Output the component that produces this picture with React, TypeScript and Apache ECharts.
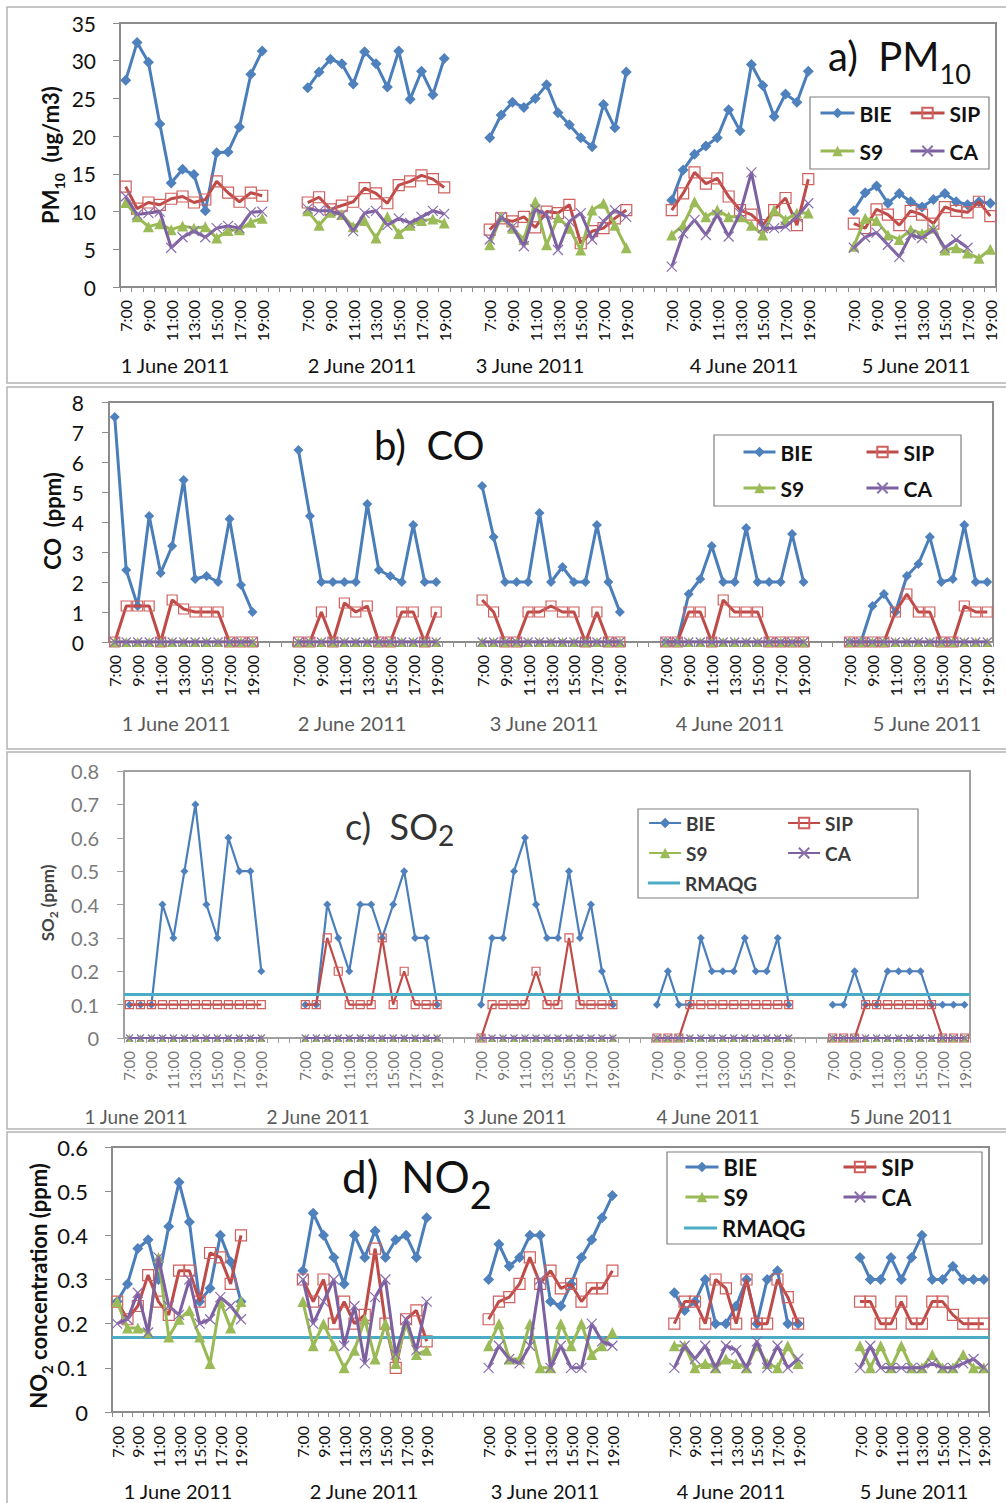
import React, { useEffect, useRef } from "react";
import * as echarts from "echarts";

// ---------------- categories / labels ----------------
const HOURS = ["7:00", "8:00", "9:00", "10:00", "11:00", "12:00", "13:00", "14:00", "15:00", "16:00", "17:00", "18:00", "19:00"];
const HOUR_LABELS = ["7:00", "9:00", "11:00", "13:00", "15:00", "17:00", "19:00"];
const DAYS = ["1 June 2011", "2 June 2011", "3 June 2011", "4 June 2011", "5 June 2011"];
const STATIONS = ["BIE", "SIP", "S9", "CA"];
const GUIDE = "RMAQG";

// ---------------- a) PM10 (ug/m3) ----------------
const PM10_TICKS = [0, 5, 10, 15, 20, 25, 30, 35];
const PM10_BIE = [
  [27.4, 32.4, 29.8, 21.6, 13.8, 15.6, 14.9, 10.1, 17.8, 17.9, 21.2, 28.2, 31.3],
  [26.4, 28.5, 30.2, 29.6, 26.9, 31.2, 29.6, 26.5, 31.3, 24.9, 28.6, 25.5, 30.3],
  [19.8, 22.8, 24.5, 23.8, 25.0, 26.8, 23.1, 21.5, 19.8, 18.6, 24.2, 21.1, 28.5],
  [11.5, 15.5, 17.6, 18.7, 19.8, 23.5, 20.7, 29.5, 26.7, 22.6, 25.6, 24.5, 28.6],
  [10.1, 12.5, 13.4, 11.1, 12.4, 11.3, 10.6, 11.6, 12.4, 11.3, 10.9, 11.3, 11.1],
];
const PM10_SIP = [
  [13.3, 10.4, 11.2, 10.9, 11.7, 12.0, 11.2, 11.6, 14.0, 12.5, 11.3, 12.5, 12.1],
  [11.2, 11.9, 10.3, 10.8, 11.3, 13.1, 12.4, 11.1, 13.5, 14.0, 14.8, 14.3, 13.2],
  [7.6, 9.1, 8.7, 9.3, 7.9, 10.0, 9.8, 10.9, 5.8, 7.4, 7.8, 9.1, 10.2],
  [10.2, 12.4, 15.2, 13.7, 14.4, 12.0, 10.2, 9.6, 8.2, 10.2, 11.8, 8.2, 14.3],
  [8.4, 7.8, 10.3, 9.6, 8.2, 10.1, 9.6, 8.4, 10.6, 10.1, 9.9, 11.3, 9.4],
];
const PM10_S9 = [
  [11.2, 9.3, 8.0, 8.4, 7.6, 8.1, 7.8, 8.0, 6.5, 7.5, 7.6, 8.6, 9.1],
  [10.1, 8.2, 9.9, 9.6, 8.0, 8.8, 6.5, 9.3, 7.1, 8.2, 8.8, 9.0, 8.5],
  [5.6, 9.3, 7.8, 6.3, 11.3, 5.6, 9.2, 7.8, 4.9, 10.2, 11.1, 8.2, 5.2],
  [6.9, 8.2, 11.3, 9.3, 10.2, 9.3, 9.3, 8.2, 6.9, 10.2, 8.9, 9.8, 9.8],
  [5.4, 9.1, 8.8, 6.9, 6.3, 7.6, 7.1, 7.8, 4.9, 5.2, 4.5, 3.8, 5.0],
];
const PM10_CA = [
  [12.0, 9.6, 9.8, 10.0, 5.2, 6.6, 7.4, 6.6, 7.8, 8.1, 7.8, 9.9, 10.0],
  [10.4, 10.1, 10.1, 9.6, 7.4, 9.8, 10.1, 8.2, 9.1, 8.5, 9.3, 10.1, 9.7],
  [6.3, 9.3, 8.0, 5.4, 10.3, 9.6, 4.9, 8.7, 9.8, 6.3, 8.7, 10.2, 9.3],
  [2.7, 7.1, 8.9, 6.9, 9.6, 6.7, 9.8, 15.2, 7.8, 7.8, 8.0, 9.3, 11.1],
  [5.2, 6.6, 7.2, 5.6, 4.0, 6.9, 6.5, 7.6, 5.2, 6.3, 5.2, null, null],
];

// ---------------- b) CO (ppm) ----------------
const CO_TICKS = [0, 1, 2, 3, 4, 5, 6, 7, 8];
const CO_BIE = [
  [7.5, 2.4, 1.2, 4.2, 2.3, 3.2, 5.4, 2.1, 2.2, 2.0, 4.1, 1.9, 1.0],
  [6.4, 4.2, 2.0, 2.0, 2.0, 2.0, 4.6, 2.4, 2.2, 2.0, 3.9, 2.0, 2.0],
  [5.2, 3.5, 2.0, 2.0, 2.0, 4.3, 2.0, 2.5, 2.0, 2.0, 3.9, 2.0, 1.0],
  [0, 0, 1.6, 2.1, 3.2, 2.0, 2.0, 3.8, 2.0, 2.0, 2.0, 3.6, 2.0],
  [0, 0, 1.2, 1.6, 1.0, 2.2, 2.6, 3.5, 2.0, 2.1, 3.9, 2.0, 2.0],
];
const CO_SIP = [
  [0, 1.2, 1.2, 1.2, 0, 1.4, 1.1, 1.0, 1.0, 1.0, 0, 0, 0],
  [0, 0, 1.0, 0, 1.3, 1.0, 1.2, 0, 0, 1.0, 1.0, 0, 1.0],
  [1.4, 1.0, 0, 0, 1.0, 1.0, 1.2, 1.0, 1.0, 0, 1.0, 0, 0],
  [0, 0, 1.0, 1.0, 0, 1.4, 1.0, 1.0, 1.0, 0, 0, 0, 0],
  [0, 0, 0, 0, 1.0, 1.6, 1.0, 1.0, 0, 0, 1.2, 1.0, 1.0],
];
const CO_S9 = [
  [0, 0, 0, 0, 0, 0, 0, 0, 0, 0, 0, 0, 0],
  [0, 0, 0, 0, 0, 0, 0, 0, 0, 0, 0, 0, 0],
  [0, 0, 0, 0, 0, 0, 0, 0, 0, 0, 0, 0, 0],
  [0, 0, 0, 0, 0, 0, 0, 0, 0, 0, 0, 0, 0],
  [0, 0, 0, 0, 0, 0, 0, 0, 0, 0, 0, 0, 0],
];
const CO_CA = [
  [0, 0, 0, 0, 0, 0, 0, 0, 0, 0, 0, 0, 0],
  [0, 0, 0, 0, 0, 0, 0, 0, 0, 0, 0, 0, 0],
  [0, 0, 0, 0, 0, 0, 0, 0, 0, 0, 0, 0, 0],
  [0, 0, 0, 0, 0, 0, 0, 0, 0, 0, 0, 0, 0],
  [0, 0, 0, 0, 0, 0, 0, 0, 0, 0, 0, 0, 0],
];

// ---------------- c) SO2 (ppm) ----------------
const SO2_TICKS = [0, 0.1, 0.2, 0.3, 0.4, 0.5, 0.6, 0.7, 0.8];
const SO2_BIE = [
  [0.1, 0.1, 0.1, 0.4, 0.3, 0.5, 0.7, 0.4, 0.3, 0.6, 0.5, 0.5, 0.2],
  [0.1, 0.1, 0.4, 0.3, 0.2, 0.4, 0.4, 0.3, 0.4, 0.5, 0.3, 0.3, 0.1],
  [0.1, 0.3, 0.3, 0.5, 0.6, 0.4, 0.3, 0.3, 0.5, 0.3, 0.4, 0.2, 0.1],
  [0.1, 0.2, 0.1, 0.1, 0.3, 0.2, 0.2, 0.2, 0.3, 0.2, 0.2, 0.3, 0.1],
  [0.1, 0.1, 0.2, 0.1, 0.1, 0.2, 0.2, 0.2, 0.2, 0.1, 0.1, 0.1, 0.1],
];
const SO2_SIP = [
  [0.1, 0.1, 0.1, 0.1, 0.1, 0.1, 0.1, 0.1, 0.1, 0.1, 0.1, 0.1, 0.1],
  [0.1, 0.1, 0.3, 0.2, 0.1, 0.1, 0.1, 0.3, 0.1, 0.2, 0.1, 0.1, 0.1],
  [0, 0.1, 0.1, 0.1, 0.1, 0.2, 0.1, 0.1, 0.3, 0.1, 0.1, 0.1, 0.1],
  [0, 0, 0, 0.1, 0.1, 0.1, 0.1, 0.1, 0.1, 0.1, 0.1, 0.1, 0.1],
  [0, 0, 0, 0.1, 0.1, 0.1, 0.1, 0.1, 0.1, 0.1, 0, 0, 0],
];
const SO2_S9 = [
  [0, 0, 0, 0, 0, 0, 0, 0, 0, 0, 0, 0, 0],
  [0, 0, 0, 0, 0, 0, 0, 0, 0, 0, 0, 0, 0],
  [0, 0, 0, 0, 0, 0, 0, 0, 0, 0, 0, 0, 0],
  [0, 0, 0, 0, 0, 0, 0, 0, 0, 0, 0, 0, 0],
  [0, 0, 0, 0, 0, 0, 0, 0, 0, 0, 0, 0, 0],
];
const SO2_CA = [
  [0, 0, 0, 0, 0, 0, 0, 0, 0, 0, 0, 0, 0],
  [0, 0, 0, 0, 0, 0, 0, 0, 0, 0, 0, 0, 0],
  [0, 0, 0, 0, 0, 0, 0, 0, 0, 0, 0, 0, 0],
  [0, 0, 0, 0, 0, 0, 0, 0, 0, 0, 0, 0, 0],
  [0, 0, 0, 0, 0, 0, 0, 0, 0, 0, 0, 0, 0],
];
const RMAQG_SO2 = 0.13;

// ---------------- d) NO2 (ppm) ----------------
const NO2_TICKS = [0, 0.1, 0.2, 0.3, 0.4, 0.5, 0.6];
const NO2_BIE = [
  [0.25, 0.29, 0.37, 0.39, 0.30, 0.42, 0.52, 0.43, 0.25, 0.28, 0.40, 0.34, 0.25],
  [0.32, 0.45, 0.40, 0.35, 0.29, 0.40, 0.35, 0.41, 0.35, 0.39, 0.40, 0.35, 0.44],
  [0.30, 0.38, 0.33, 0.35, 0.40, 0.40, 0.25, 0.24, 0.29, 0.35, 0.39, 0.44, 0.49],
  [0.27, 0.23, 0.25, 0.30, 0.20, 0.20, 0.24, 0.30, 0.20, 0.30, 0.32, 0.20, 0.20],
  [0.35, 0.30, 0.30, 0.35, 0.30, 0.35, 0.40, 0.30, 0.30, 0.33, 0.30, 0.30, 0.30],
];
const NO2_SIP = [
  [0.25, 0.21, 0.24, 0.31, 0.25, 0.22, 0.32, 0.32, 0.25, 0.36, 0.35, 0.29, 0.40],
  [0.30, 0.25, 0.30, 0.20, 0.25, 0.20, 0.22, 0.37, 0.20, 0.10, 0.21, 0.23, 0.16],
  [0.21, 0.25, 0.26, 0.29, 0.35, 0.29, 0.32, 0.28, 0.29, 0.25, 0.28, 0.28, 0.32],
  [0.20, 0.25, 0.25, 0.20, 0.30, 0.28, 0.20, 0.30, 0.20, 0.20, 0.30, 0.26, 0.20],
  [0.25, 0.25, 0.20, 0.20, 0.25, 0.20, 0.20, 0.25, 0.25, 0.22, 0.20, 0.20, 0.20],
];
const NO2_S9 = [
  [0.25, 0.19, 0.19, 0.18, 0.35, 0.17, 0.21, 0.23, 0.17, 0.11, 0.25, 0.19, 0.25],
  [0.25, 0.15, 0.20, 0.15, 0.10, 0.14, 0.21, 0.12, 0.20, 0.11, 0.20, 0.13, 0.14],
  [0.15, 0.20, 0.12, 0.12, 0.20, 0.10, 0.10, 0.20, 0.15, 0.20, 0.13, 0.15, 0.18],
  [0.15, 0.15, 0.10, 0.11, 0.10, 0.12, 0.11, 0.10, 0.15, 0.11, 0.10, 0.15, 0.11],
  [0.15, 0.10, 0.15, 0.10, 0.15, 0.10, 0.10, 0.13, 0.10, 0.10, 0.13, 0.10, 0.10],
];
const NO2_CA = [
  [0.20, 0.21, 0.27, 0.18, 0.35, 0.24, 0.22, 0.30, 0.20, 0.21, 0.26, 0.24, 0.21],
  [0.30, 0.20, 0.25, 0.30, 0.15, 0.24, 0.11, 0.26, 0.30, 0.13, 0.21, 0.14, 0.25],
  [0.10, 0.15, 0.12, 0.11, 0.15, 0.30, 0.10, 0.15, 0.10, 0.10, 0.20, 0.16, 0.15],
  [0.10, 0.15, 0.12, 0.15, 0.10, 0.15, 0.14, 0.10, 0.16, 0.10, 0.15, 0.10, 0.12],
  [0.10, 0.15, 0.10, 0.10, 0.10, 0.10, 0.10, 0.11, 0.10, 0.10, 0.11, 0.12, 0.10],
];
const RMAQG_NO2 = 0.17;

// ---------------- styling ----------------
const FONT = 'Lato, "Open Sans", "DejaVu Sans", sans-serif';
const STYLE: Record<string, any> = {
  BIE: { line: "#4A7EBB", mark: "#4F81BD", symbol: "diamond" },
  SIP: { line: "#BE4B48", mark: "#D0605D", symbol: "rect" },
  S9: { line: "#98B954", mark: "#9BBB59", symbol: "triangle" },
  CA: { line: "#7D60A0", mark: "#8A6EAE", symbol: "path://M0,0L10,10M10,0L0,10" },
};
const GUIDE_COLOR = "#4BACC6";

function joinDays(days: (number | null)[][], gap: number) {
  const out: (number | null)[] = [];
  days.forEach((d, i) => {
    out.push(...d);
    if (i < days.length - 1) for (let k = 0; k < gap; k++) out.push(null);
  });
  return out;
}
function buildCategories(gap: number) {
  const out: string[] = [];
  DAYS.forEach((_, i) => {
    out.push(...HOURS);
    if (i < DAYS.length - 1) for (let k = 0; k < gap; k++) out.push("");
  });
  return out;
}

const PANELS = [
  {
    ticks: PM10_TICKS,
    data: { BIE: PM10_BIE, SIP: PM10_SIP, S9: PM10_S9, CA: PM10_CA } as Record<string, (number | null)[][]>,
    guide: null as number | null,
    gap: 3,
    grid: { left: 120, top: 23, width: 876, height: 264 },
    frame: [7, 7, 1020, 376],
    axisColor: "#8c8c8c",
    textColor: "#111",
    dayColor: "#111",
    yFont: 21, xFont: 16, yMargin: 24, xMargin: 13,
    lineW: 3, sym: 11,
    title: { x: 828, y: 25, rich: "{m|a)  PM}{s|10}", m: 40, s: 27, lh: 62, color: "#111" },
    yTitle: { x: 50, y: 155, text: "{m|PM}{s|10}{m|  (ug/m3)}", m: 22, s: 14, lh: 32, color: "#111" },
    dayY: 365, dayX: [175, 362, 530, 744, 916], dayFont: 20,
    legend: { box: [810, 97, 179, 72], font: 21, color: "#111", iw: 34, items: [["BIE", 819, 113], ["SIP", 909, 113], ["S9", 819, 151], ["CA", 909, 151]] },
  },
  {
    ticks: CO_TICKS,
    data: { BIE: CO_BIE, SIP: CO_SIP, S9: CO_S9, CA: CO_CA } as Record<string, (number | null)[][]>,
    guide: null as number | null,
    gap: 3,
    grid: { left: 109, top: 402, width: 884, height: 240 },
    frame: [7, 387, 1020, 362],
    axisColor: "#8c8c8c",
    textColor: "#111",
    dayColor: "#5a5a5a",
    yFont: 21, xFont: 16, yMargin: 25, xMargin: 13,
    lineW: 3, sym: 10,
    title: { x: 374, y: 421, rich: "{m|b)  CO}", m: 40, s: 27, lh: 48, color: "#111" },
    yTitle: { x: 52, y: 521, text: "{m|CO  (ppm)}", m: 22, s: 14, lh: 28, color: "#111" },
    dayY: 723, dayX: [176, 352, 544, 730, 927], dayFont: 20,
    legend: { box: [714, 435, 247, 71], font: 21, color: "#111", iw: 32, items: [["BIE", 742, 452], ["SIP", 865, 452], ["S9", 742, 488], ["CA", 865, 488]] },
  },
  {
    ticks: SO2_TICKS,
    data: { BIE: SO2_BIE, SIP: SO2_SIP, S9: SO2_S9, CA: SO2_CA } as Record<string, (number | null)[][]>,
    guide: RMAQG_SO2 as number | null,
    gap: 3,
    grid: { left: 124, top: 771, width: 846, height: 267 },
    frame: [7, 752, 1020, 377],
    axisColor: "#a0a0a0",
    textColor: "#7a7a7a",
    dayColor: "#5a5a5a",
    yFont: 20, xFont: 15, yMargin: 25, xMargin: 13,
    lineW: 2.2, sym: 8,
    title: { x: 345, y: 802, rich: "{m|c)  SO}{s|2}", m: 36, s: 28, lh: 47, color: "#333" },
    yTitle: { x: 47, y: 903, text: "{m|SO}{s|2}{m| (ppm)}", m: 17, s: 12, lh: 24, color: "#444" },
    dayY: 1116, dayX: [136, 318, 515, 708, 901], dayFont: 19,
    legend: { box: [638, 809, 280, 89], font: 19, color: "#3a3a3a", iw: 32, items: [["BIE", 648, 823], ["SIP", 787, 823], ["S9", 648, 853], ["CA", 787, 853], [GUIDE, 648, 883]] },
  },
  {
    ticks: NO2_TICKS,
    data: { BIE: NO2_BIE, SIP: NO2_SIP, S9: NO2_S9, CA: NO2_CA } as Record<string, (number | null)[][]>,
    guide: RMAQG_NO2 as number | null,
    gap: 5,
    grid: { left: 112, top: 1147, width: 877, height: 265 },
    frame: [7, 1132, 1020, 380],
    axisColor: "#8c8c8c",
    textColor: "#111",
    dayColor: "#111",
    yFont: 22, xFont: 16, yMargin: 24, xMargin: 14,
    lineW: 3, sym: 11,
    title: { x: 342, y: 1139, rich: "{m|d)  NO}{s|2}", m: 44, s: 38, lh: 74, color: "#111" },
    yTitle: { x: 38, y: 1286, text: "{m|NO}{s|2}{m| concentration (ppm)}", m: 22, s: 15, lh: 32, color: "#111" },
    dayY: 1491, dayX: [178, 364, 545, 731, 914], dayFont: 20,
    legend: { box: [667, 1152, 315, 92], font: 22, color: "#111", iw: 33, items: [["BIE", 684, 1167], ["SIP", 842, 1167], ["S9", 684, 1197], ["CA", 842, 1197], [GUIDE, 684, 1228]] },
  },
];

function richText(x: number, y: number, text: string, m: number, s: number, lh: number, color: string, bold: boolean, rotate: boolean) {
  const fw = bold ? "bold" : "normal";
  return {
    type: "text",
    x,
    y,
    rotation: rotate ? Math.PI / 2 : 0,
    silent: true,
    z: 20,
    style: {
      text,
      fill: color,
      align: rotate ? "center" : "left",
      textAlign: rotate ? "center" : "left",
      verticalAlign: rotate ? "middle" : "top",
      textVerticalAlign: rotate ? "middle" : "top",
      rich: {
        m: { fontSize: m, fontFamily: FONT, fontWeight: fw, fill: color, lineHeight: lh, verticalAlign: "middle" },
        s: { fontSize: s, fontFamily: FONT, fontWeight: fw, fill: color, verticalAlign: "bottom" },
      },
    },
  };
}

function buildOption() {
  const grid: any[] = [];
  const xAxis: any[] = [];
  const yAxis: any[] = [];
  const series: any[] = [];
  const legend: any[] = [];
  const graphic: any[] = [];

  PANELS.forEach((p, i) => {
    const cats = buildCategories(p.gap);
    grid.push({ ...p.grid, show: true, borderColor: p.axisColor, borderWidth: 2, backgroundColor: "transparent", containLabel: false });
    xAxis.push({
      type: "category",
      gridIndex: i,
      data: cats,
      boundaryGap: true,
      axisLine: { lineStyle: { color: p.axisColor, width: 2 } },
      axisTick: { show: true, interval: 0, length: 5, lineStyle: { color: p.axisColor, width: 1 } },
      axisLabel: {
        interval: (_idx: number, val: string) => HOUR_LABELS.includes(val),
        rotate: 90,
        margin: p.xMargin,
        fontSize: p.xFont,
        fontFamily: FONT,
        color: p.textColor,
      },
      splitLine: { show: false },
    });
    yAxis.push({
      type: "value",
      gridIndex: i,
      min: p.ticks[0],
      max: p.ticks[p.ticks.length - 1],
      interval: p.ticks[1] - p.ticks[0],
      axisLine: { show: true, lineStyle: { color: p.axisColor, width: 2 } },
      axisTick: { show: true, length: 7, lineStyle: { color: p.axisColor, width: 1 } },
      axisLabel: { fontSize: p.yFont, fontFamily: FONT, color: p.textColor, margin: p.yMargin },
      splitLine: { show: false },
    });

    STATIONS.forEach((name, sIdx) => {
      const st = STYLE[name];
      const isSip = name === "SIP";
      const isCa = name === "CA";
      series.push({
        name,
        type: "line",
        xAxisIndex: i,
        yAxisIndex: i,
        data: joinDays(p.data[name], p.gap),
        connectNulls: false,
        showAllSymbol: true,
        symbol: st.symbol,
        symbolSize: isCa ? p.sym - 1 : p.sym,
        lineStyle: { color: st.line, width: p.lineW },
        itemStyle: isSip
          ? { color: "rgba(255,255,255,0)", borderColor: st.mark, borderWidth: 1.2 }
          : isCa
          ? { color: st.mark, borderColor: st.mark, borderWidth: 1.2 }
          : { color: st.mark },
        emphasis: { disabled: true },
        silent: true,
        z: 3 + sIdx,
      });
    });
    if (p.guide !== null) {
      series.push({
        name: GUIDE,
        type: "line",
        xAxisIndex: i,
        yAxisIndex: i,
        data: [],
        symbol: "none",
        lineStyle: { color: GUIDE_COLOR, width: 3 },
        itemStyle: { color: GUIDE_COLOR },
        silent: true,
        z: 8,
        markLine: {
          silent: true,
          symbol: "none",
          label: { show: false },
          lineStyle: { color: GUIDE_COLOR, width: 3, type: "solid" },
          data: [{ yAxis: p.guide }],
        },
      });
    }

    // legend: one component per item
    p.legend.items.forEach(([name, lx, cy]) => {
      const lh = p.legend.font + 4;
      const isGuide = name === GUIDE;
      legend.push({
        data: [
          isGuide
            ? { name: name as string, icon: "rect", itemStyle: { color: GUIDE_COLOR } }
            : { name: name as string, lineStyle: { width: p.lineW } },
        ],
        left: lx as number,
        top: (cy as number) - lh / 2,
        orient: "horizontal",
        padding: 0,
        itemGap: 0,
        itemWidth: p.legend.iw,
        itemHeight: isGuide ? 3 : 13,
        selectedMode: false,
        z: 20,
        textStyle: { fontSize: p.legend.font, fontWeight: "bold", fontFamily: FONT, color: p.legend.color, lineHeight: lh },
      });
    });

    // frames and boxes
    graphic.push({
      type: "rect",
      silent: true,
      shape: { x: p.frame[0], y: p.frame[1], width: p.frame[2], height: p.frame[3] },
      style: { fill: "none", stroke: "#b4b4b4", lineWidth: 1.5 },
      z: -10,
    });
    const b = p.legend.box;
    graphic.push({
      type: "rect",
      silent: true,
      shape: { x: b[0], y: b[1], width: b[2], height: b[3] },
      style: { fill: "none", stroke: "#7f7f7f", lineWidth: 1.2 },
      z: 1,
    });
    graphic.push(richText(p.title.x, p.title.y, p.title.rich, p.title.m, p.title.s, p.title.lh, p.title.color, false, false));
    graphic.push(richText(p.yTitle.x, p.yTitle.y, p.yTitle.text, p.yTitle.m, p.yTitle.s, p.yTitle.lh, p.yTitle.color, true, true));
    DAYS.forEach((d, k) => {
      graphic.push({
        type: "text",
        silent: true,
        x: p.dayX[k],
        y: p.dayY,
        style: {
          text: d,
          fill: p.dayColor,
          fontSize: p.dayFont,
          fontFamily: FONT,
          align: "center",
          textAlign: "center",
          verticalAlign: "middle",
          textVerticalAlign: "middle",
        },
      });
    });
  });

  return {
    animation: false,
    backgroundColor: "#fff",
    grid,
    xAxis,
    yAxis,
    series,
    legend,
    graphic: { elements: graphic },
  };
}

export default function App() {
  const ref = useRef<HTMLDivElement>(null);
  useEffect(() => {
    if (!ref.current) return;
    const chart = echarts.init(ref.current, null, { renderer: "svg", width: 1006, height: 1503 });
    chart.setOption(buildOption() as any);
    return () => chart.dispose();
  }, []);
  return (
    <div
      ref={ref}
      style={{ position: "absolute", left: 0, top: 0, width: 1006, height: 1503, background: "#fff" }}
    />
  );
}
